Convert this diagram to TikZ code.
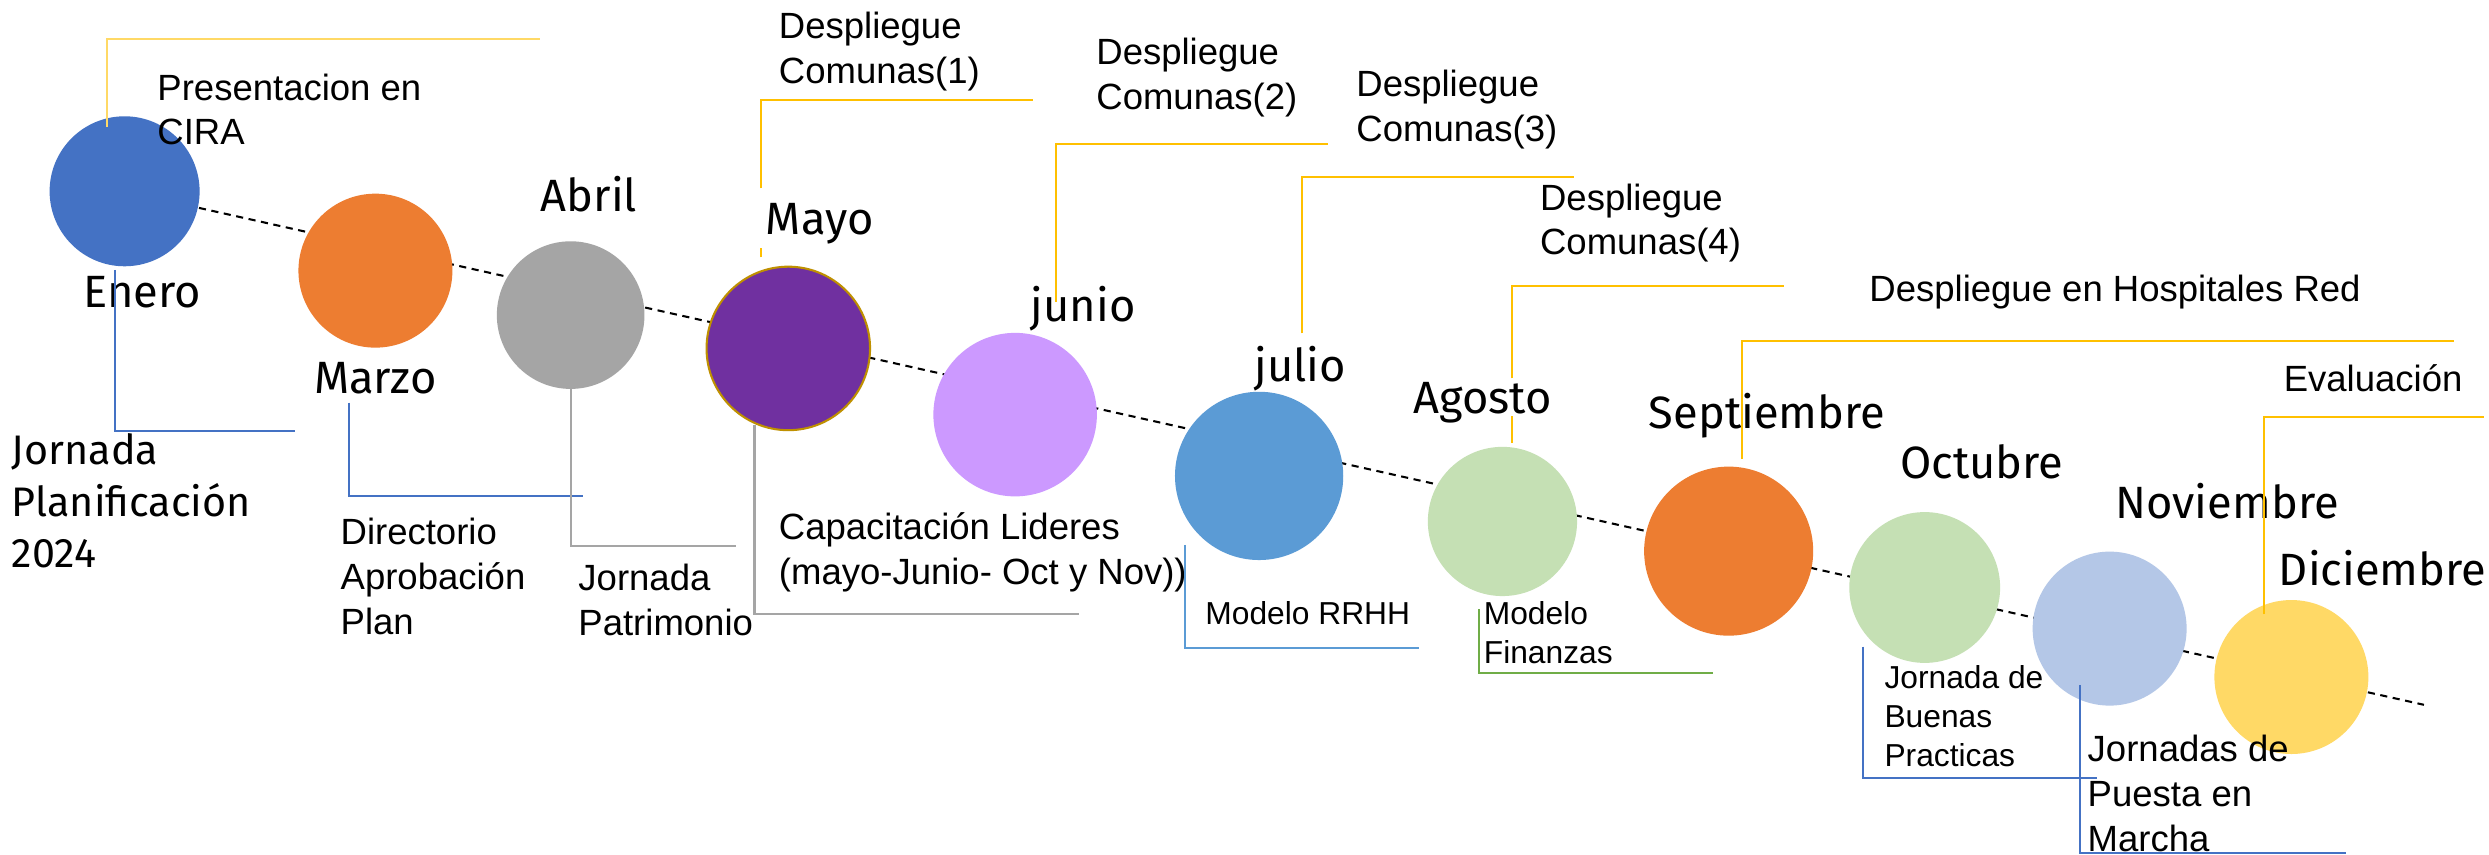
\documentclass[tikz,border=0pt]{standalone}
\usepackage{fontspec}
\setmainfont{Liberation Sans}
\newfontfamily\monthfont{Fira Sans}
\usetikzlibrary{calc,backgrounds}
\definecolor{cBlue}{HTML}{4472C4}
\definecolor{cOrange}{HTML}{ED7D31}
\definecolor{cGray}{HTML}{A5A5A5}
\definecolor{cPurple}{HTML}{7030A0}
\definecolor{cGold}{HTML}{BF9000}
\definecolor{cLilac}{HTML}{CC99FF}
\definecolor{cSky}{HTML}{5B9BD5}
\definecolor{cMint}{HTML}{C5E0B4}
\definecolor{cPale}{HTML}{B4C7E7}
\definecolor{cSun}{HTML}{FFD966}
\definecolor{cAmber}{HTML}{FFC000}
\definecolor{cGreen}{HTML}{70AD47}
\newcommand{\mlines}[1]{\begin{tabular}[t]{@{}l@{}}#1\end{tabular}}
\begin{document}
\begin{tikzpicture}[x=1pt,y=-1pt,
  dot/.style={circle,inner sep=0pt,draw=none},
  month/.style={font=\monthfont\fontsize{28.5}{33}\selectfont,inner sep=0pt,anchor=base},
  big/.style={font=\fontsize{23}{28.3}\selectfont,inner sep=0pt,anchor=base west},
  small/.style={font=\fontsize{20}{24.4}\selectfont,inner sep=0pt,anchor=base west},
  conn/.style={line width=1.3pt},
  timeline/.style={line width=1.3pt,dash pattern=on 4.5pt off 3.5pt,black}]
\useasboundingbox (0,0) rectangle (1568,538.6);
% circles
\node[dot,fill=cBlue,minimum size=94.5pt] (enero) at (78.5,120.5) {};
\node[dot,fill=cOrange,minimum size=97pt] (marzo) at (236.5,170.5) {};
\node[dot,fill=cGray,minimum size=93pt] (abril) at (359.5,198.5) {};
\node[dot,fill=cPurple,draw=cGold,line width=1.3pt,minimum size=103pt] (mayo) at (496.6,219.5) {};
\node[dot,fill=cLilac,minimum size=103pt] (junio) at (639.5,261.2) {};
\node[dot,fill=cSky,minimum size=106pt] (julio) at (793.2,299.8) {};
\node[dot,fill=cMint,minimum size=94pt] (agosto) at (946.5,328.5) {};
\node[dot,fill=cOrange,minimum size=106.5pt] (sept) at (1089,347.2) {};
\node[dot,fill=cMint,minimum size=95pt] (oct) at (1212.5,370.1) {};
\node[dot,fill=cPale,minimum size=97pt] (nov) at (1329,396) {};
\node[dot,fill=cSun,minimum size=97pt] (dic) at (1443.5,426.5) {};
% timeline behind the circles
\coordinate (tlend) at (1527,444);
\begin{scope}[on background layer]
\fill[white] (0,0) rectangle (1568,538.6);
\draw[timeline] (enero.center) -- (tlend);
\end{scope}
% month labels
\node[month] (l-enero) at (89.5,193.5) {Enero};
\node[month] (l-marzo) at (236.5,247.9) {Marzo};
\node[month] (l-abril) at (371,133.4) {Abril};
\node[month] (l-mayo) at (516.4,148) {Mayo};
\node[month] (l-junio) at (682.4,202.6) {junio};
\node[month] (l-julio) at (819,240.4) {julio};
\node[month] (l-agosto) at (934,260.3) {Agosto};
\node[month] (l-sept) at (1113.2,269.8) {Septiembre};
\node[month] (l-oct) at (1248.5,301.3) {Octubre};
\node[month] (l-nov) at (1403,326.5) {Noviembre};
\node[month,anchor=base east] (l-dic) at (1566.5,369) {Diciembre};
% event labels
\node[big] (cira) at (99,63) {\mlines{Presentacion en\\CIRA}};
\node[big] (dc1) at (490.5,24.2) {\mlines{Despliegue\\Comunas(1)}};
\node[big] (dc2) at (690.5,40.5) {\mlines{Despliegue\\Comunas(2)}};
\node[big] (dc3) at (854.3,60.9) {\mlines{Despliegue\\Comunas(3)}};
\node[big] (dc4) at (970,132.3) {\mlines{Despliegue\\Comunas(4)}};
\node[big] (dhr) at (1177.5,190) {Despliegue en Hospitales Red};
\node[big] (eval) at (1438.5,246.7) {Evaluación};
\node[inner sep=0pt,anchor=base west,font=\monthfont\fontsize{26}{32.3}\selectfont] (jplan) at (7.3,292.9) {\mlines{Jornada\\Planificación\\2024}};
\node[big] (dir) at (214.4,343.3) {\mlines{Directorio\\Aprobación\\Plan}};
\node[big] (jpat) at (364.2,372.1) {\mlines{Jornada\\Patrimonio}};
\node[big] (cap) at (490.5,339.8) {\mlines{Capacitación Lideres\\(mayo-Junio- Oct y Nov))}};
\node[small] (rrhh) at (759.2,393.7) {Modelo RRHH};
\node[small] (fin) at (934.6,393.7) {\mlines{Modelo\\Finanzas}};
\node[small,font=\fontsize{20}{24.5}\selectfont] (jbp) at (1187,433.6) {\mlines{Jornada de\\Buenas\\Practicas}};
\node[big] (jpm) at (1315,479.8) {\mlines{Jornadas de\\Puesta en\\Marcha}};
% connector free ends
\coordinate (t-enero) at (340,24.6);
\coordinate (b-enero) at (185.8,271.3);
\coordinate (b-marzo) at (367.5,312.5);
\coordinate (b-abril) at (463.6,343.8);
\coordinate (t-mayo) at (650.8,63);
\coordinate (b-mayo) at (679.7,387);
\coordinate (t-junio) at (836.3,90.9);
\coordinate (t-julio) at (991.4,111.3);
\coordinate (b-julio) at (894.1,408);
\coordinate (t-agosto) at (1123.6,180);
\coordinate (b-agosto) at (1079,424.2);
\coordinate (t-sept) at (1546,214.8);
\coordinate (b-oct) at (1320.8,490.3);
\coordinate (b-nov) at (1478.2,537.6);
\coordinate (t-dic) at (1565,262.5);
% connectors
\draw[conn,cSun] ($(enero.center)+(-11.2,-40.7)$) |- (t-enero);
\draw[conn,cBlue] ($(enero.center)+(-5.8,49.5)$) |- (b-enero);
\draw[conn,cBlue] ($(marzo.center)+(-16.7,83.2)$) |- (b-marzo);
\draw[conn,cGray] (abril.south) |- (b-abril);
\draw[conn,cAmber] ($(mayo.center)+(-17.3,-57.4)$) -- ++(0,-5.7)
   ($(mayo.center)+(-17.3,-100.9)$) |- (t-mayo);
\draw[conn,cGray] ($(mayo.center)+(-21.3,48.2)$) |- (b-mayo);
\draw[conn,cAmber] ($(junio.center)+(25.7,-71.2)$) |- (t-junio);
\draw[conn,cAmber] ($(julio.center)+(26.8,-89.8)$) |- (t-julio);
\draw[conn,cSky] ($(julio.center)+(-46.7,43.5)$) |- (b-julio);
\draw[conn,cAmber] ($(agosto.center)+(6.2,-49.6)$) -- ++(0,-16.9)
   ($(agosto.center)+(6.2,-90.2)$) |- (t-agosto);
\draw[conn,cGreen] ($(agosto.center)+(-14.8,55.3)$) |- (b-agosto);
\draw[conn,cAmber] ($(sept.center)+(8.2,-58)$) |- (t-sept);
\draw[conn,cBlue] ($(oct.center)+(-39.1,37.3)$) |- (b-oct);
\draw[conn,cBlue] ($(nov.center)+(-18.7,35.5)$) |- (b-nov);
\draw[conn,cAmber] ($(dic.center)+(-17,-39.5)$) |- (t-dic);
\end{tikzpicture}
\end{document}
